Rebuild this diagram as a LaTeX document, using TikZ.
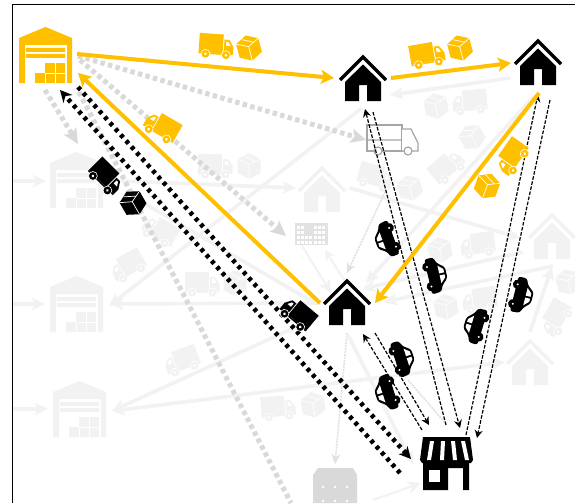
\documentclass[tikz,border=0pt]{standalone}
\usetikzlibrary{arrows.meta}
\definecolor{gold}{HTML}{FFC000}
\definecolor{pale}{HTML}{F2F2F2}
\definecolor{midgrey}{HTML}{D9D9D9}
\definecolor{ink}{HTML}{000000}
\tikzset{
  x=1pt,y=-1pt,
  goldline/.style={draw=gold,line width=4pt,-{Stealth[length=13pt,width=14pt,inset=3pt]}},
  paleline/.style={draw=pale,line width=3.6pt,-{Stealth[length=13pt,width=12pt,inset=3pt]}},
  palethin/.style={draw=midgrey!80,line width=1.6pt,dash pattern=on 2pt off 1pt,-{Stealth[length=10pt,width=9pt,fill=midgrey]}},
  greydots/.style={draw=midgrey,line width=5pt,dash pattern=on 4.4pt off 3.4pt,-{Stealth[length=15pt,width=14pt,inset=3pt]}},
  blackdots/.style={draw=black,line width=4.6pt,dash pattern=on 3.8pt off 4.2pt},
  blackdotstip/.style={blackdots,-{Stealth[length=12pt,width=12pt]}},
  thindash/.style={draw=black,line width=1.2pt,dash pattern=on 3.6pt off 1.6pt},
  thindashtip/.style={thindash,-{Stealth[length=8pt,width=8pt]}},
  pics/house/.style={code={
    \fill[#1] (-18,27) -- (0,9.5) -- (18,27) -- (18,46) -- (4,46) -- (4,30) -- (-4,30) -- (-4,46) -- (-18,46) -- cycle;
    \draw[#1,line width=3.2pt,line join=miter] (-23,25) -- (0,2) -- (23,25);
  }},
  pics/depot/.style={code={
    \fill[#1,even odd rule] (0,56) -- (0,11) -- (26.5,0) -- (53,11) -- (53,56) -- (48,56) -- (48,18) -- (6,18) -- (6,56) -- cycle;
    \fill[#1] (7,21) rectangle (46,25) (7,27) rectangle (46,31) (16,46) rectangle (46,56) (26,36) rectangle (46,46);
    \draw[white,line width=.6pt] (26,46) -- (26,56) (36,36) -- (36,56) (26,46) -- (46,46);
  }},
  pics/truck/.style={code={
    \fill[#1] (-17,-12) rectangle (7,7);
    \fill[#1] (8,-7) -- (13,-7) -- (17.5,0) -- (17.5,8) -- (8,8) -- cycle;
    \fill[white] (10,-5) -- (12,-5) -- (14.5,-1) -- (10,-1) -- cycle;
    \fill[#1] (-17,7) rectangle (8,8.5);
    \fill[#1] (-10,8.5) circle (4.4) (10.5,8.5) circle (4.4);
    \fill[white] (-10,8.5) circle (1.5) (10.5,8.5) circle (1.5);
    \draw[white,line width=.6pt] (-10,8.5) circle (4.4) (10.5,8.5) circle (4.4);
  }},
  pics/parcel/.style={code={
    \fill[#1] (0,-13) -- (11.5,-7) -- (11.5,7) -- (0,13) -- (-11.5,7) -- (-11.5,-7) -- cycle;
    \draw[white,line width=.7pt] (-11.5,-7) -- (0,-1.5) -- (11.5,-7) (0,-1.5) -- (0,13) (-5,-10) -- (6,-4.5);
  }},
  pics/auto/.style={code={
    \fill[#1,rounded corners=2.5pt] (-18,9) -- (-18,0) -- (-12,-2) -- (-6,-9.5) -- (5,-9.5) -- (12,-2.5) -- (17,-1) -- (18,9) -- cycle;
    \fill[white] (-9,-2.5) -- (-4.5,-7.5) -- (-1,-7.5) -- (-1,-2.5) -- cycle (1,-2.5) -- (1,-7.5) -- (4,-7.5) -- (9,-2.5) -- cycle;
    \fill[#1] (-10,8) circle (4.8) (10,8) circle (4.8);
    \fill[white] (-10,8) circle (1.1) (10,8) circle (1.1);
  }},
}
\begin{document}
\begin{tikzpicture}
\clip (0,0) rectangle (575,503);
\fill[white] (0,0) rectangle (575,503);

% named end points of the connectors
\foreach \n/\p in {
  a1/{13,181},a2/{46,181},a3/{122,181},a4/{296,188},a5/{362,108},a6/{109,306},
  a7/{13,304},a8/{45,304},a9/{320,303},a10/{110,304},a11/{13,409},a12/{48,409},
  a13/{320,316},a14/{112,411},a15/{505,362},a16/{350,188},a17/{520,238},
  a18/{510,78},a19/{390,95},a20/{534,96},a21/{366,283},a22/{523,252},a23/{362,289},
  a24/{553,266},a25/{384,302},a26/{530,332},a27/{552,267},a28/{296,236},a29/{331,293},
  a30/{325,250},a31/{345,281},a32/{385,192},a33/{347,273},a34/{125,192},a35/{318,305},
  a36/{347,333},a37/{335,464},a38/{348,335},a39/{413,464},a40/{408,380},a41/{447,425},
  a42/{373,500},a43/{421,483},
  g1/{78,56},g2/{366,140},g3/{80,60},g4/{286,236},g5/{45,90},g6/{78,144},g7/{79,92},g8/{291,503},
  o1/{77,54},o2/{334,78},o3/{391,78},o4/{511,63},o5/{320,303},o6/{78,73},o7/{539,93},o8/{375,303},
  b1/{400,473},b2/{60,90},b3/{78,87},b4/{411,459},
  d1/{446,425},d2/{365,109},d3/{373,112},d4/{460,428},d5/{466,435},d6/{538,94},d7/{550,100},d8/{477,438},
  d9/{422,430},d10/{363,334},d11/{375,333},d12/{429,425}}
  {\expandafter\coordinate\expandafter(\n) at (\p);}

% pale connectors
\draw[paleline] (a1) -- (a2);
\draw[paleline] (a3) -- (a4);
\draw[paleline] (a5) -- (a6);
\draw[paleline] (a7) -- (a8);
\draw[paleline] (a9) -- (a10);
\draw[paleline] (a11) -- (a12);
\draw[paleline] (a13) -- (a14);
\draw[paleline,{Stealth[length=13pt,width=12pt,inset=3pt]}-{Stealth[length=13pt,width=12pt,inset=3pt]}] (a15) -- (a14);
\draw[paleline] (a16) -- (a17);
\draw[paleline] (a18) -- (a19);
\draw[paleline] (a20) -- (a21);
\draw[paleline] (a22) -- (a23);
\draw[paleline] (a24) -- (a25);
\draw[paleline] (a26) -- (a27);
\draw[paleline,line width=2pt] (a28) -- (a29);
\draw[paleline,line width=2pt,{Stealth[length=10pt,width=10pt]}-] (a30) -- (a31);
\draw[palethin] (a32) -- (a33);
\draw[paleline] (a34) -- (a35);
\draw[palethin] (a36) -- (a37);
\draw[paleline] (a38) -- (a39);
\draw[palethin,-] (a40) -- (a41);
\draw[paleline,line width=2pt] (a42) -- (a43);

% pale icons
\foreach \xp/\yp in {50/152,50/276,53/381} \pic at (\xp,\yp) {depot=pale};
\pic at (322,166) {house=pale};
\pic at (552,213) {house=pale};
\pic at (530,339) {house=pale};
\foreach \xp/\yp/\r in {215/166/0,202/284/0,278/408/5,375/177/-15,447/167/40}
  \pic[rotate=\r] at (\xp,\yp) {truck=pale};
\foreach \xp/\yp/\r in {160/231/-30,128/266/30,182/361/20,470/102/5,478/245/8,480/300/8,556/318/60}
  \pic[rotate=\r,xscale=-1] at (\xp,\yp) {truck=pale};
\foreach \xp/\yp/\r in {249/166/0,235/283/0,313/405/10,436/106/10,410/188/15,472/137/30,440/250/10,446/307/10,568/282/15}
  \pic[rotate=\r] at (\xp,\yp) {parcel=pale};

% grey dotted connectors
\draw[greydots] (g1) -- (g2);
\draw[greydots] (g3) -- (g4);
\draw[greydots] (g5) -- (g6);
\draw[greydots,-] (g7) -- (g8);

% grey icons
\fill[midgrey] (313,475) -- (318,468) -- (353,468) -- (357,475) -- (357,503) -- (313,503) -- cycle;
\foreach \xp in {323,335,347} \foreach \yp in {487,501} \fill[white] (\xp,\yp) circle (1.4);
\fill[midgrey!75] (295,223) rectangle (328,245);
\foreach \xp in {297,301,314,318,322} \foreach \yp in {226,231,236,241} \fill[white] (\xp,\yp) rectangle ++(2.6,3);
\foreach \yp in {236,241} \foreach \xp in {305,309} \fill[white] (\xp,\yp) rectangle ++(2.6,3);
% outlined truck
\draw[black!35,line width=1.2pt,fill=white] (367,125) rectangle (402,151);
\draw[black!35,line width=1.2pt,fill=white] (367,140) -- (402,140) (402,129) -- (411,129) -- (418,143) -- (418,151) -- (402,151);
\draw[black!35,line width=1.2pt,fill=white] (378,151) circle (4) (408,151) circle (4);

% black dotted connectors
\draw[blackdotstip] (b1) -- (b2);
\draw[blackdotstip] (b3) -- (b4);

% thin dashed connectors
\draw[thindashtip] (d1) -- (d2);
\draw[thindashtip] (d3) -- (d4);
\draw[thindashtip] (d5) -- (d6);
\draw[thindashtip] (d7) -- (d8);
\draw[thindashtip] (d9) -- (d10);
\draw[thindashtip] (d11) -- (d12);

% gold connectors
\draw[goldline] (o1) -- (o2);
\draw[goldline] (o3) -- (o4);
\draw[goldline] (o5) -- (o6);
\draw[goldline] (o7) -- (o8);

% gold icons
\pic at (19,27) {depot=gold};
\pic[rotate=-4] at (216,46) {truck=gold};
\pic[rotate=15] at (249,48) {parcel=gold};
\pic[rotate=10] at (427,55) {truck=gold};
\pic[rotate=15] at (460,48) {parcel=gold};
\pic[rotate=-30,xscale=-1] at (162,127) {truck=gold};
\pic[rotate=55,xscale=-1] at (512,157) {truck=gold};
\pic[rotate=-20] at (487,186) {parcel=gold};

% black icons
\pic at (363,55) {house=ink};
\pic at (538,39) {house=ink};
\pic at (347,279) {house=ink};
\pic[rotate=-45] at (106,177) {truck=ink};
\pic[rotate=30] at (133,203) {parcel=ink};
\pic[rotate=-40,xscale=-1] at (298,314) {truck=ink};
\pic[rotate=110] at (385,240) {auto=ink};
\pic[rotate=-77] at (437,275) {auto=ink};
\pic[rotate=-104] at (523,296) {auto=ink};
\pic[rotate=73] at (474,325) {auto=ink};
\pic[rotate=-72] at (404,358) {auto=ink};
\pic[rotate=108] at (385,393) {auto=ink};

% shop
\fill[black] (423,437) -- (470,437) -- (473,460) -- (471,463) -- (422,463) -- (420,460) -- cycle;
\fill[white] (430,441) -- (434,441) -- (431,460) -- (427,460) -- cycle
             (441,441) -- (445,441) -- (444,460) -- (440,460) -- cycle
             (451,441) -- (455,441) -- (457,460) -- (453,460) -- cycle
             (461,441) -- (465,441) -- (469,460) -- (465,460) -- cycle;
\fill[black] (423,463) rectangle (448,490) (463,463) rectangle (469,490) (448,463) rectangle (463,468);
\fill[white] (429,470) rectangle (440,482);

% frame
\draw[black,line width=1.8pt] (12.5,503) -- (12.5,4.5) -- (575,4.5);
\end{tikzpicture}
\end{document}
